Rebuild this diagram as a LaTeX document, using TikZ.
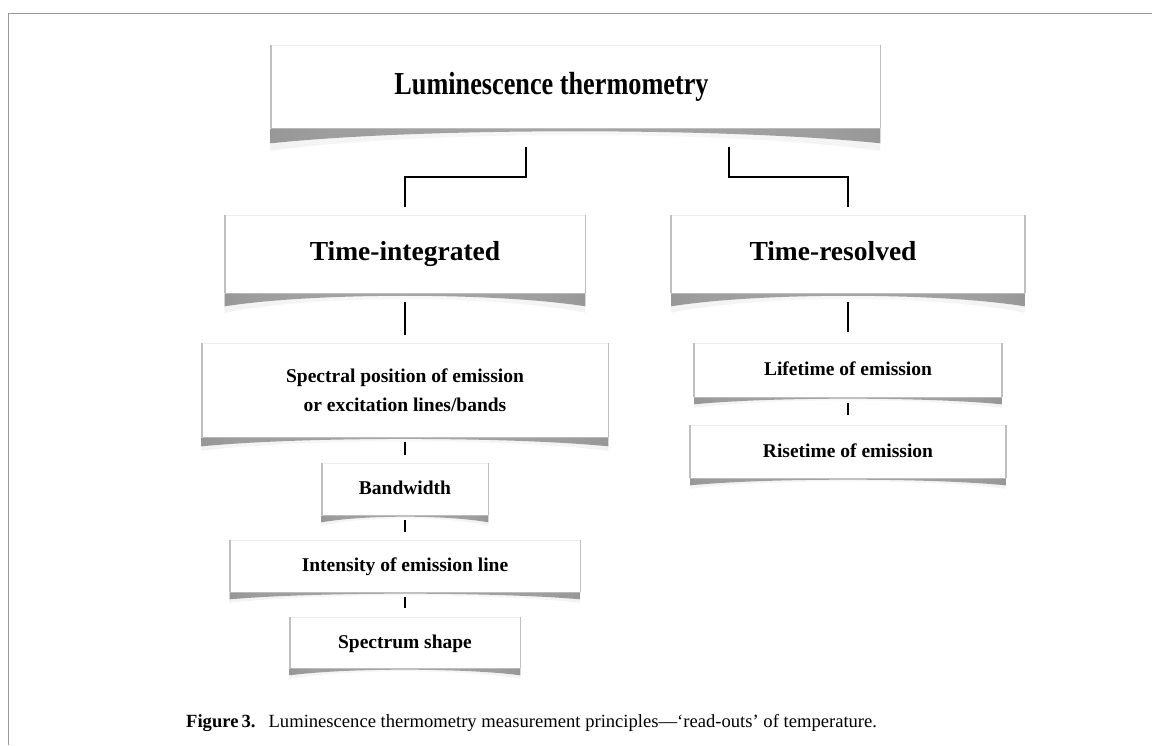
\documentclass[tikz,border=0pt]{standalone}
\usepackage{fontspec}
\setmainfont{Liberation Serif}
\newfontfamily\condfont[FakeStretch=0.82]{Liberation Serif}
\usetikzlibrary{calc}
\pgfdeclarehorizontalshading{curl}{100bp}{color(0bp)=(black!65); color(12bp)=(black!48); color(30bp)=(black!38); color(50bp)=(black!35); color(70bp)=(black!38); color(88bp)=(black!48); color(100bp)=(black!65)}
\pgfdeclarehorizontalshading{glow}{100bp}{color(0bp)=(black!12); color(20bp)=(black!5); color(50bp)=(black!3); color(80bp)=(black!5); color(100bp)=(black!12)}
\tikzset{
  box/.style={rectangle, fill=white, draw=black!7, line width=0.6pt, inner sep=0pt, align=center,
    font=\bfseries\fontsize{19.5}{29.5}\selectfont},
  fixsmall/.style={text height=14pt, text depth=3pt},
  bigbox/.style={box, text height=20pt, text depth=8pt, font=\bfseries\fontsize{27.5}{32}\selectfont},
  conn/.style={line width=2.4pt, black},
  frameline/.style={black!40, line width=1.4pt},
}
\newcommand\boxshade[3]{%
  \shade[shading=glow]
    (#1.south west) -- ($(#1.south west)+(0,#2*1.5)$)
    .. controls ($(#1.south west)!0.25!(#1.south east)+(0,#2*0.1)$) and ($(#1.south west)!0.75!(#1.south east)+(0,#2*0.1)$)
    .. ($(#1.south east)+(0,#2*1.5)$) -- (#1.south east) -- cycle;
  \shade[shading=curl]
    (#1.south west) -- ($(#1.south west)+(0,#2)$)
    .. controls ($(#1.south west)!0.25!(#1.south east)+(0,#3)$) and ($(#1.south west)!0.75!(#1.south east)+(0,#3)$)
    .. ($(#1.south east)+(0,#2)$) -- (#1.south east) -- cycle;
  \draw[black!25, line width=1.6pt] (#1.south west) -- (#1.north west);
  \draw[black!25, line width=1.6pt] (#1.south east) -- (#1.north east);
}
\begin{document}
\begin{tikzpicture}[x=1pt, y=-1pt]
\useasboundingbox (0,0) rectangle (1152,745);
\draw[frameline] (8.5,745) -- (8.5,13.5) -- (1152,13.5);

% nodes
\node[box, minimum width=609, minimum height=83, text height=24pt, text depth=9pt,
  font=\condfont\bfseries\fontsize{32}{36}\selectfont]
  (title) at (575.5,86.5) {\hspace*{-48pt}Luminescence thermometry};
\node[bigbox, minimum width=360, minimum height=78] (ti) at (405,254) {Time-integrated};
\node[bigbox, minimum width=353, minimum height=78] (tr) at (848,254) {\hspace*{-30pt}Time-resolved};
\node[box, minimum width=406, minimum height=94] (sp) at (405,390) {Spectral position of emission\\or excitation lines/bands};
\node[box, fixsmall, minimum width=166, minimum height=52] (bw) at (405,489) {Bandwidth};
\node[box, fixsmall, minimum width=350, minimum height=52] (in) at (405,566) {Intensity of emission line};
\node[box, fixsmall, minimum width=230, minimum height=51] (ss) at (405,642.5) {Spectrum shape};
\node[box, fixsmall, minimum width=307, minimum height=54] (lt) at (848,370) {Lifetime of emission};
\node[box, fixsmall, minimum width=315, minimum height=53] (rt) at (848,451.5) {Risetime of emission};

% shadows
\boxshade{title}{15}{-1}
\boxshade{ti}{13}{-1}
\boxshade{tr}{13}{-1}
\boxshade{sp}{9}{-0.8}
\boxshade{bw}{7}{-0.5}
\boxshade{in}{7}{-0.5}
\boxshade{ss}{7}{-0.5}
\boxshade{lt}{7}{-0.5}
\boxshade{rt}{7}{-0.5}

% connectors
\coordinate (t1) at ([xshift=-49.5pt,yshift=-19pt]title.south);
\coordinate (t2) at ([xshift=153.5pt,yshift=-19pt]title.south);
\coordinate (ti0) at ([yshift=8pt]ti.north);
\coordinate (tr0) at ([yshift=8pt]tr.north);
\draw[conn] (t1) |- ($(t1)!0.5!(ti0)$) -| (ti0);
\draw[conn] (t2) |- ($(t2)!0.5!(tr0)$) -| (tr0);
\draw[conn] ([yshift=-9pt]ti.south) -- ([yshift=8pt]sp.north);
\draw[conn] ([yshift=-5pt]sp.south) -- ([yshift=8pt]bw.north);
\draw[conn] ([yshift=-5pt]bw.south) -- ([yshift=8pt]in.north);
\draw[conn] ([yshift=-5pt]in.south) -- ([yshift=9pt]ss.north);
\draw[conn] ([yshift=-9pt]tr.south) -- ([yshift=11pt]lt.north);
\draw[conn] ([yshift=-6pt]lt.south) -- ([yshift=10pt]rt.north);

% caption
\node[anchor=base west, inner sep=0pt, font=\fontsize{18.6}{22}\selectfont] (cap) at (186,727)
  {\textbf{Figure\,3.}\hspace{0.7em}Luminescence thermometry measurement principles---`read-outs' of temperature.};
\end{tikzpicture}
\end{document}
